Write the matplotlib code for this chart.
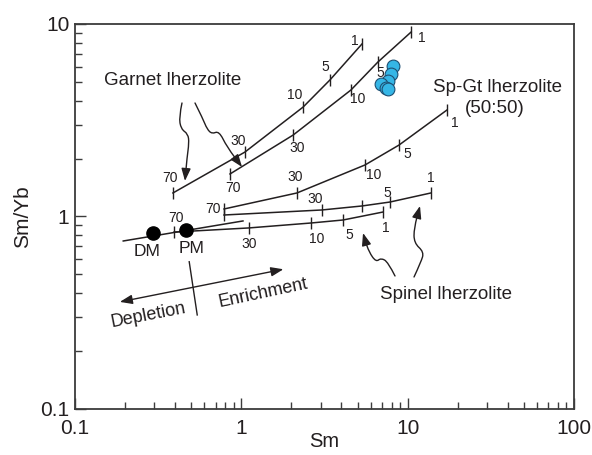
import matplotlib.pyplot as plt
import numpy as np
from matplotlib.path import Path
from matplotlib.patches import FancyArrowPatch
from matplotlib.ticker import LogLocator, NullFormatter

plt.rcParams['font.family'] = ['Liberation Sans', 'DejaVu Sans']

INK = '#231f20'
AXIS = '#3c3c3c'

# degree of partial melting (%) marked along every curve
MELT_F = [70, 30, 10, 5, 1]

# melting curves: Sm (ppm) vs Sm/Yb
GT1_SM = [0.388, 1.05, 2.35, 3.41, 5.31]
GT1_SMYB = [1.325, 2.16, 3.70, 5.12, 7.87]
GT2_SM = [0.855, 2.05, 4.56, 6.63, 10.5]
GT2_SMYB = [1.663, 2.65, 4.54, 6.35, 9.09]
SPGT_SM = [0.787, 2.16, 5.54, 8.87, 17.2]
SPGT_SMYB = [1.094, 1.325, 1.852, 2.35, 3.57]
SP1_SM = [0.787, 3.05, 5.31, 7.83, 13.8]
SP1_SMYB = [1.018, 1.081, 1.134, 1.189, 1.325]
SP2_SM = [0.394, 1.11, 2.62, 4.09, 7.11]
SP2_SMYB = [0.830, 0.872, 0.925, 0.959, 1.055]

# DM - PM trend line
TREND_SM = [0.195, 1.023]
TREND_SMYB = [0.746, 0.948]

# mantle sources
SOURCE_NAMES = ['DM', 'PM']
SOURCE_SM = [0.294, 0.464]
SOURCE_SMYB = [0.820, 0.851]

# samples
SAMPLE_SM = [8.13, 7.89, 7.65, 6.95, 7.41, 7.57]
SAMPLE_SMYB = [6.03, 5.50, 5.04, 4.88, 4.65, 4.57]

# where the melt-% numbers sit relative to their tick (points); None = unlabelled
GT1_LBL = [(-2, 11), (-5, 8), (-6, 9), (-3, 9), (-5, 2)]
GT2_LBL = [(2, -10), (3, -9.5), (4.5, -6.5), (1.5, -8), (8, -4.5)]
SPGT_LBL = [(-8, 0), (-1, 11.5), (6.5, -7), (6, -6.5), (6, -9.5)]
SP1_LBL = [None, (-5, 8), None, (-2, 6.5), (0, 11)]
SP2_LBL = [(1.5, 10), (0, -11.5), (4.5, -11.5), (4.5, -11), (2, -11.5)]


def squiggle(ax, pts):
    """Wavy pointer arrow through pts (axes fraction), head at the last point."""
    pts = np.asarray(pts, dtype=float)
    verts = [pts[0]]
    codes = [Path.MOVETO]
    for i in range(1, len(pts) - 1):
        verts += [pts[i], (pts[i] + pts[i + 1]) / 2]
        codes += [Path.CURVE3, Path.CURVE3]
    verts.append(pts[-1])
    codes.append(Path.LINETO)
    arrow = FancyArrowPatch(path=Path(verts, codes),
                            arrowstyle='-|>,head_length=0.75,head_width=0.28',
                            mutation_scale=10, transform=ax.transAxes,
                            color=INK, lw=1.0)
    ax.add_patch(arrow)


fig = plt.figure(figsize=(5.92, 4.55), dpi=100)
ax = fig.add_axes([0.1267, 0.1011, 0.8429, 0.8462])
ax.set_xscale('log')
ax.set_yscale('log')
ax.set_xlim(0.1, 100)
ax.set_ylim(0.1, 10)

curves = [
    (GT1_SM, GT1_SMYB, GT1_LBL),
    (GT2_SM, GT2_SMYB, GT2_LBL),
    (SPGT_SM, SPGT_SMYB, SPGT_LBL),
    (SP1_SM, SP1_SMYB, SP1_LBL),
    (SP2_SM, SP2_SMYB, SP2_LBL),
]
for xs, ys, offsets in curves:
    ax.plot(xs, ys, color=INK, lw=1.1, zorder=2)
    ax.plot(xs, ys, ls='none', marker='|', ms=8, mew=1.0, color=INK, zorder=2)
    for x, y, f, off in zip(xs, ys, MELT_F, offsets):
        if off is None:
            continue
        ax.annotate(str(f), (x, y), xytext=off, textcoords='offset points',
                    ha='center', va='center', fontsize=10, color=INK)

ax.plot(TREND_SM, TREND_SMYB, color=INK, lw=1.1, zorder=2)
ax.plot(SOURCE_SM, SOURCE_SMYB, ls='none', marker='o', ms=9.5,
        color='black', zorder=4)
ax.text(0.271, 0.655, SOURCE_NAMES[0], ha='center', va='center',
        fontsize=12.5, color=INK)
ax.text(0.505, 0.685, SOURCE_NAMES[1], ha='center', va='center',
        fontsize=12.5, color=INK)

ax.plot(SAMPLE_SM, SAMPLE_SMYB, ls='none', marker='o', ms=9.2,
        markerfacecolor='#35b6e6', markeredgecolor='#1d4f73',
        markeredgewidth=0.8, zorder=5)

# field labels
ax.text(0.388, 5.06, 'Garnet lherzolite', ha='center', va='center',
        fontsize=13.5, color=INK)
ax.text(34.7, 4.65, 'Sp-Gt lherzolite', ha='center', va='center',
        fontsize=13.5, color=INK)
ax.text(33.5, 3.66, '(50:50)', ha='center', va='center',
        fontsize=13.5, color=INK)
ax.text(17.0, 0.395, 'Spinel lherzolite', ha='center', va='center',
        fontsize=13.5, color=INK)

squiggle(ax, [(0.2144, 0.7948), (0.2084, 0.7584), (0.2124, 0.7273),
              (0.2265, 0.7143), (0.2285, 0.6909), (0.2244, 0.6519),
              (0.2204, 0.5922)])
squiggle(ax, [(0.2405, 0.7948), (0.2565, 0.7532), (0.2645, 0.7273),
              (0.2745, 0.7143), (0.2886, 0.7221), (0.3046, 0.6805),
              (0.3347, 0.6286)])
squiggle(ax, [(0.6413, 0.3455), (0.6273, 0.3818), (0.6132, 0.3922),
              (0.6032, 0.3818), (0.5892, 0.4078), (0.5812, 0.4390),
              (0.5772, 0.4571)])
squiggle(ax, [(0.6794, 0.3429), (0.6934, 0.3818), (0.6994, 0.4078),
              (0.6794, 0.4312), (0.6794, 0.4701), (0.6914, 0.5273)])

# depletion / enrichment arrow with the PM divider
ax.annotate('', xy=(0.186, 0.360), xytext=(1.79, 0.532),
            arrowprops=dict(arrowstyle='<|-|>,head_length=0.75,head_width=0.28',
                            color=INK, lw=1.0, shrinkA=0, shrinkB=0,
                            mutation_scale=10))
ax.plot([0.486, 0.543], [0.582, 0.308], color=INK, lw=1.0)
ax.text(0.275, 0.308, 'Depletion', rotation=11, rotation_mode='anchor',
        ha='center', va='center', fontsize=13, color=INK)
ax.text(1.35, 0.401, 'Enrichment', rotation=12, rotation_mode='anchor',
        ha='center', va='center', fontsize=13, color=INK)

# axes styling
for side in ax.spines.values():
    side.set_linewidth(1.3)
    side.set_color(AXIS)
ax.set_xticks([0.1, 1, 10, 100])
ax.set_xticklabels(['0.1', '1', '10', '100'])
ax.set_yticks([0.1, 1, 10])
ax.set_yticklabels(['0.1', '1', '10'])
for axis in (ax.xaxis, ax.yaxis):
    axis.set_minor_locator(LogLocator(base=10, subs=np.arange(2, 10)))
    axis.set_minor_formatter(NullFormatter())
ax.tick_params(which='both', direction='in', top=False, right=False,
               color=AXIS, width=1.0, labelsize=15, labelcolor=INK)
ax.tick_params(which='major', length=8)
ax.tick_params(which='minor', length=5)
ax.tick_params(axis='x', pad=7)
ax.tick_params(axis='y', pad=4)
ax.set_xlabel('Sm', fontsize=14.5, color=INK, labelpad=-4)
ax.set_ylabel('Sm/Yb', fontsize=15, color=INK, labelpad=6)

fig.savefig('out.png', dpi=100)
